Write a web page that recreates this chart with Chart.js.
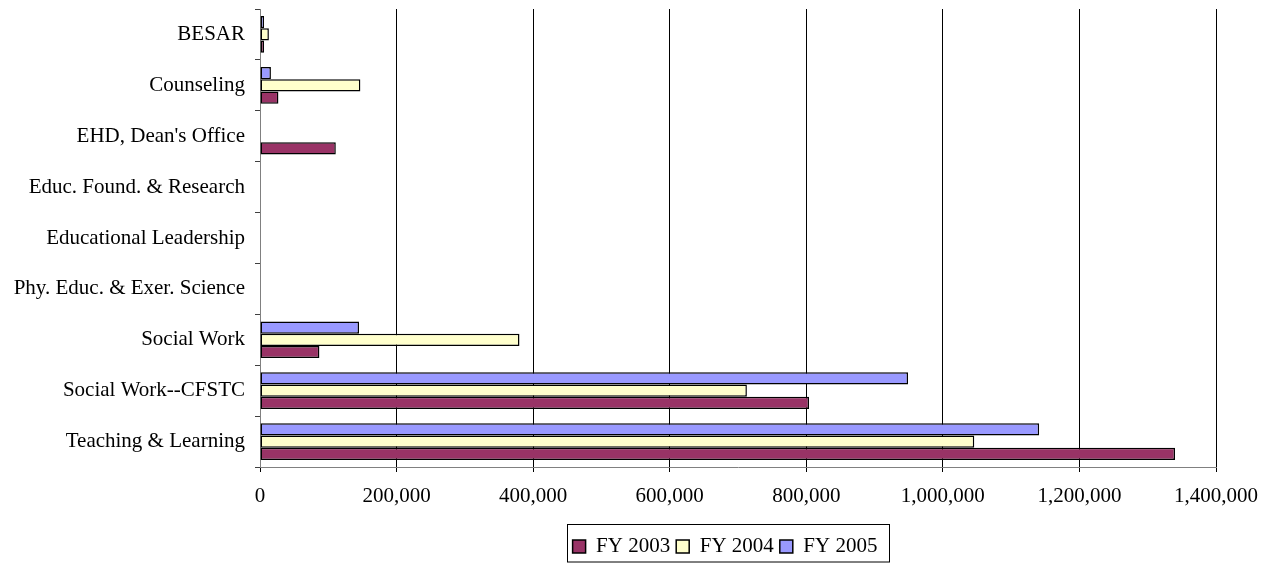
<!DOCTYPE html>
<html>
<head>
<meta charset="utf-8">
<script src="https://cdn.jsdelivr.net/npm/chart.js"></script>
<style>
  html, body { margin: 0; padding: 0; background: #fff; }
  #wrap { width: 1266px; height: 563px; }
</style>
</head>
<body>
<div id="wrap"><canvas id="myChart"></canvas></div>
<script>
// departments, top to bottom
const departments = [
    'BESAR',
    'Counseling',
    "EHD, Dean's Office",
    'Educ. Found. & Research',
    'Educational Leadership',
    'Phy. Educ. & Exer. Science',
    'Social Work',
    'Social Work--CFSTC',
    'Teaching & Learning'
];

const fy2003 = [6000, 27000, 111000, 0, 0, 0, 87000, 804000, 1340000];
const fy2004 = [13000, 147000, 0, 0, 0, 0, 380000, 713000, 1046000];
const fy2005 = [6000, 16000, 0, 0, 0, 0, 145000, 949000, 1141000];

const xTicks = [0, 200000, 400000, 600000, 800000, 1000000, 1200000, 1400000];

const serif = 'Liberation Serif, Times New Roman, serif';
Chart.defaults.font.family = serif;
Chart.defaults.font.size = 21;
Chart.defaults.color = '#000';

const ctx = document.getElementById('myChart');

// legend sits under the plot, a bit lower and to the right of the page centre
const legendShift = {
    id: 'legendShift',
    afterLayout(chart) {
        const lg = chart.legend;
        const dx = 117, dy = 4;
        lg.left += dx; lg.right += dx;
        lg.top += dy; lg.bottom += dy;
    }
};

// box drawn around the legend, like the spreadsheet one
const legendBorder = {
    id: 'legendBorder',
    afterDraw(chart) {
        const boxes = chart.legend.legendHitBoxes;
        if (!boxes || !boxes.length) return;
        const first = boxes[0];
        const last = boxes[boxes.length - 1];
        const c = chart.ctx;
        c.save();
        c.strokeStyle = '#000';
        c.lineWidth = 1;
        const left = Math.round(first.left - 6) + 0.5;
        const right = Math.round(last.left + last.width + 12) + 0.5;
        const top = Math.round(first.top - 12) + 0.5;
        c.strokeRect(left, top, right - left, 562 - top);
        c.restore();
    }
};

let chart = buildChart(ctx);

function buildChart(current_ctx) {
    return new Chart(current_ctx, {
        type: 'bar',
        data: {
            labels: departments,
            // reversed so FY 2005 sits on top inside each group
            datasets: [
                { label: 'FY 2005', data: fy2005, backgroundColor: '#9999FF' },
                { label: 'FY 2004', data: fy2004, backgroundColor: '#FFFFCC' },
                { label: 'FY 2003', data: fy2003, backgroundColor: '#993366' }
            ].map(ds => Object.assign(ds, {
                borderColor: '#000',
                borderWidth: 1.5,
                borderSkipped: false,
                categoryPercentage: 0.72,
                barPercentage: 1.0
            }))
        },
        options: {
            indexAxis: 'y',
            responsive: true,
            maintainAspectRatio: false,
            animation: false,
            layout: {
                padding: { top: 9, right: 50, left: 0, bottom: 0 }
            },
            scales: {
                x: {
                    min: 0,
                    max: 1400000,
                    afterBuildTicks: (scale) => {
                        scale.ticks = xTicks.map(v => ({ value: v }));
                    },
                    afterFit: (scale) => {
                        scale.height = 59;
                        scale.paddingLeft = 0;
                        scale.paddingRight = 0;
                    },
                    ticks: {
                        padding: 12,
                        maxRotation: 0,
                        callback: (v) => Number(v).toLocaleString('en-US')
                    },
                    grid: {
                        color: '#000',
                        lineWidth: 1,
                        tickLength: 5
                    },
                    border: { display: true, color: '#808080' }
                },
                y: {
                    offset: true,
                    afterFit: (scale) => {
                        scale.width = 260;
                        scale.paddingTop = 0;
                        scale.paddingBottom = 0;
                    },
                    ticks: { padding: 10 },
                    grid: {
                        offset: true,
                        drawOnChartArea: false,
                        tickLength: 5,
                        color: '#404040'
                    },
                    border: { display: true, color: '#808080' }
                }
            },
            plugins: {
                legend: {
                    position: 'bottom',
                    reverse: true,
                    labels: {
                        boxWidth: 13,
                        boxHeight: 13,
                        padding: 6,
                        font: { size: 21, family: serif }
                    }
                },
                tooltip: { enabled: false }
            }
        },
        plugins: [legendShift, legendBorder]
    });
}
</script>
</body>
</html>
